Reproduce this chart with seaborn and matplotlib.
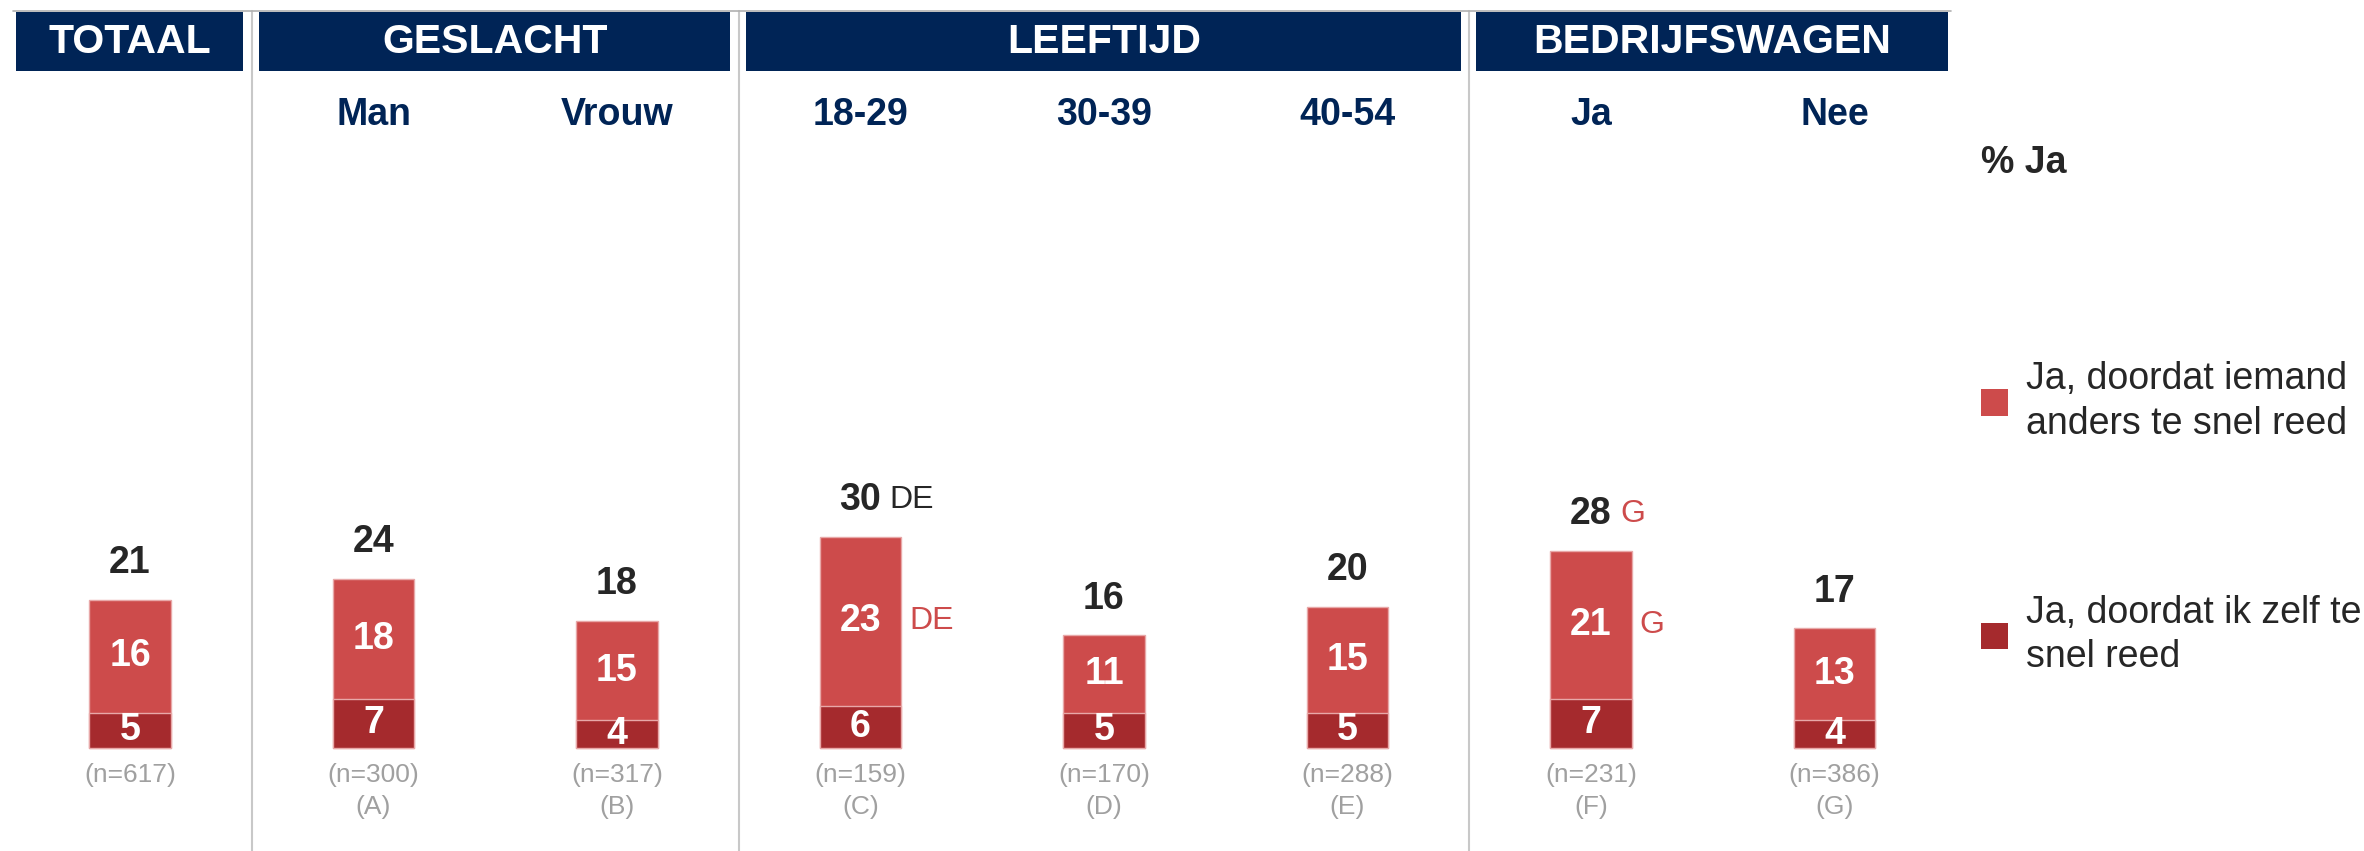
import pandas as pd
import matplotlib.pyplot as plt
import seaborn as sns
from matplotlib.patches import Rectangle, Patch

# ==================================
# DATA
# ==================================

groepen = ["Totaal", "Man", "Vrouw", "18-29", "30-39", "40-54", "Ja", "Nee"]
totaal = [21, 24, 18, 30, 16, 20, 28, 17]
iemand_anders = [16, 18, 15, 23, 11, 15, 21, 13]
ik_zelf = [5, 7, 4, 6, 5, 5, 7, 4]
n_basis = [617, 300, 317, 159, 170, 288, 231, 386]
kolom_letters = ["", "A", "B", "C", "D", "E", "F", "G"]
sig_totaal = ["", "", "", "DE", "", "", "G", ""]
sig_anders = ["", "", "", "DE", "", "", "G", ""]

koppen = ["TOTAAL", "GESLACHT", "LEEFTIJD", "BEDRIJFSWAGEN"]
kop_start = [0, 1, 3, 6]
kop_eind = [0, 2, 5, 7]

legenda_labels = ["Ja, doordat iemand\nanders te snel reed",
                  "Ja, doordat ik zelf te\nsnel reed"]

LICHT = "#CD4B4B"
DONKER = "#A52A2D"
NAVY = "#002456"
TEKST = "#262626"
GRIJS = "#A0A0A0"

df = pd.DataFrame({"groep": groepen, "totaal": totaal, "zelf": ik_zelf})

# ==================================
# PLOT
# ==================================

sns.set_style("white")
plt.rcParams["font.family"] = ["Liberation Sans", "DejaVu Sans"]

fig = plt.figure(figsize=(23.64, 8.51), dpi=100)
ax = fig.add_axes([0, 0, 1, 1])

sns.barplot(data=df, x="groep", y="totaal", color=LICHT, saturation=1,
            width=0.334, errorbar=None, edgecolor="#E8A8A8", linewidth=1, ax=ax)
sns.barplot(data=df, x="groep", y="zelf", color=DONKER, saturation=1,
            width=0.334, errorbar=None, edgecolor="#E8A8A8", linewidth=1, ax=ax)

ax.set_xlim(-0.534, 9.175)
ax.set_ylim(-14.6, 106.1)
ax.axis("off")

# labels on and around bars
for i in range(len(groepen)):
    ax.text(i, totaal[i] + 5.2, str(totaal[i]), ha="center", va="center",
            fontsize=27, fontweight="bold", color=TEKST)
    if sig_totaal[i]:
        kleur = TEKST if sig_totaal[i] == "DE" else LICHT
        ax.text(i + 0.12, totaal[i] + 5.2, sig_totaal[i], ha="left", va="center",
                fontsize=23, color=kleur)
    licht_mid = ik_zelf[i] + (totaal[i] - ik_zelf[i]) / 2
    ax.text(i, licht_mid, str(iemand_anders[i]), ha="center", va="center",
            fontsize=27, fontweight="bold", color="white")
    if sig_anders[i]:
        ax.text(i + 0.2, licht_mid, sig_anders[i], ha="left", va="center",
                fontsize=23, color=LICHT)
    ax.text(i, ik_zelf[i] / 2, str(ik_zelf[i]), ha="center", va="center",
            fontsize=27, fontweight="bold", color="white")
    ax.text(i, -3.8, f"(n={n_basis[i]})", ha="center", va="center",
            fontsize=19, color=GRIJS)
    if kolom_letters[i]:
        ax.text(i, -8.3, f"({kolom_letters[i]})", ha="center", va="center",
                fontsize=19, color=GRIJS)
    if i > 0:
        ax.text(i, 89.8, groepen[i], ha="center", va="center",
                fontsize=27, fontweight="bold", color=NAVY)

# header boxes
ax.plot([-0.48, 7.48], [104.6, 104.6], color="#B0B0B0", linewidth=1.2)
for kop, s, e in zip(koppen, kop_start, kop_eind):
    ax.add_patch(Rectangle((s - 0.47, 96.0), (e - s) + 0.935, 8.4,
                           facecolor=NAVY, edgecolor="none", zorder=3))
    ax.text((s + e) / 2, 100.2, kop, ha="center", va="center",
            fontsize=29.5, fontweight="bold", color="white", zorder=4)

# separators
for x in [0.5, 2.5, 5.5]:
    ax.plot([x, x], [-14.6, 104.6], color="#C8C8C8", linewidth=1.5, zorder=1)

# legend
ax.text(7.6, 83.0, "% Ja", ha="left", va="center", fontsize=27,
        fontweight="bold", color=TEKST)
handles = [Patch(facecolor=LICHT, edgecolor="none"),
           Patch(facecolor=DONKER, edgecolor="none")]
leg = ax.legend(handles, legenda_labels, loc="center left",
                bbox_to_anchor=(7.6, 32.6), bbox_transform=ax.transData,
                frameon=False, fontsize=27, handlelength=0.72, handleheight=0.72,
                handletextpad=0.48, labelspacing=4.07, borderpad=0, borderaxespad=0)
for t in leg.get_texts():
    t.set_color(TEKST)
    t.set_linespacing(1.32)

fig.savefig("out.png", dpi=100)
